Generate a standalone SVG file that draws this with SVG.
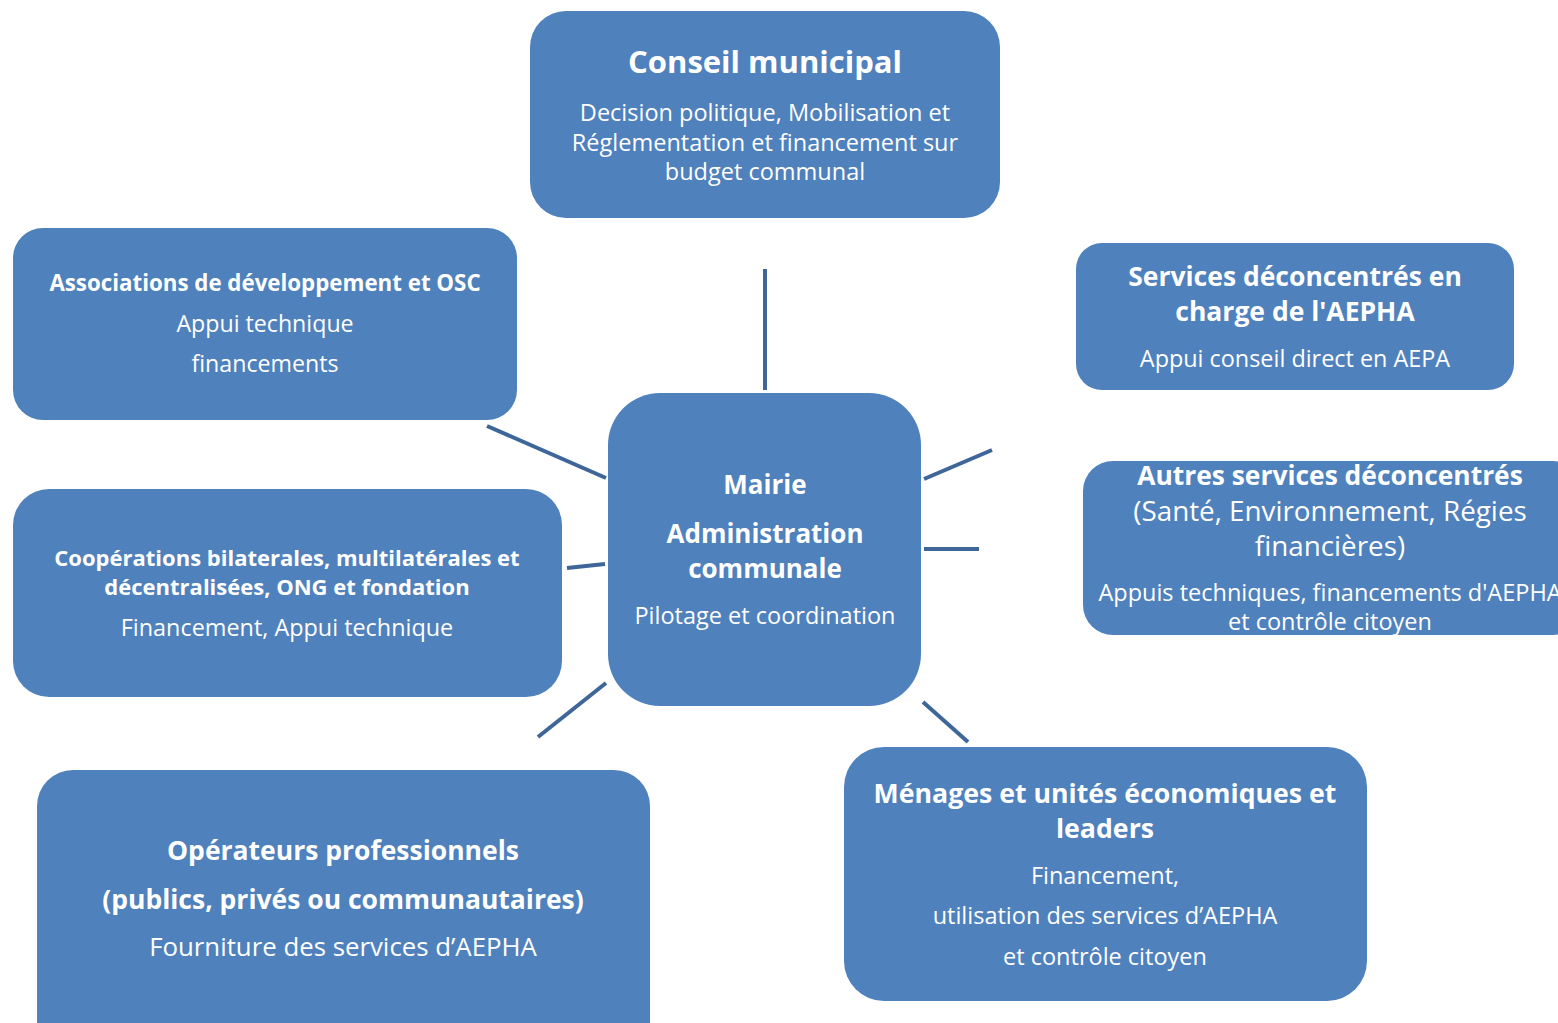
<svg xmlns="http://www.w3.org/2000/svg" width="1558" height="1023" viewBox="0 0 1558 1023">
<style>
.box{fill:#4F81BD;}
.t{fill:#FFFFFF;font-family:"Open Sans",Lato,sans-serif;text-anchor:middle;font-variant-ligatures:none;}
.b{font-weight:bold;}
.c{stroke:#3E6699;stroke-width:4;fill:none;}
</style>
<rect width="1558" height="1023" fill="#FFFFFF"/>
<g id="connectors">
<line class="c" x1="765" y1="269" x2="765" y2="390"/>
<line class="c" x1="487" y1="426" x2="606" y2="478"/>
<line class="c" x1="567" y1="568" x2="605" y2="564"/>
<line class="c" x1="538" y1="737" x2="606" y2="683"/>
<line class="c" x1="924" y1="479" x2="992" y2="450"/>
<line class="c" x1="924" y1="549" x2="979" y2="549"/>
<line class="c" x1="923" y1="702" x2="968" y2="742"/>
</g>
<g id="conseil">
<rect class="box" x="530" y="11" width="470" height="207" rx="36"/>
<text class="t b" x="765" y="73" font-size="31">Conseil municipal</text>
<text class="t" x="765" y="121" font-size="23.5">Decision politique, Mobilisation et</text>
<text class="t" x="765" y="151" font-size="23.5">Réglementation et financement sur</text>
<text class="t" x="765" y="180" font-size="23.5">budget communal</text>
</g>
<g id="associations">
<rect class="box" x="13" y="228" width="504" height="192" rx="30"/>
<text class="t b" x="265" y="291" font-size="22.3">Associations de développement et OSC</text>
<text class="t" x="265" y="332" font-size="23.2">Appui technique</text>
<text class="t" x="265" y="372" font-size="23.2">financements</text>
</g>
<g id="services">
<rect class="box" x="1076" y="243" width="438" height="147" rx="26"/>
<text class="t b" x="1295" y="286" font-size="26.5">Services déconcentrés en</text>
<text class="t b" x="1295" y="321" font-size="26.5">charge de l'AEPHA</text>
<text class="t" x="1295" y="367" font-size="23.4">Appui conseil direct en AEPA</text>
</g>
<g id="autres">
<rect class="box" x="1083" y="461" width="500" height="174" rx="30"/>
<text class="t b" x="1330" y="485" font-size="26.4">Autres services déconcentrés</text>
<text class="t" x="1330" y="521" font-size="27.8">(Santé, Environnement, Régies</text>
<text class="t" x="1330" y="556" font-size="27.8">financières)</text>
<text class="t" x="1330" y="601" font-size="23.5">Appuis techniques, financements d'AEPHA</text>
<text class="t" x="1330" y="630" font-size="23.5">et contrôle citoyen</text>
</g>
<g id="cooperations">
<rect class="box" x="13" y="489" width="549" height="208" rx="36"/>
<text class="t b" x="287" y="566" font-size="22">Coopérations bilaterales, multilatérales et</text>
<text class="t b" x="287" y="595" font-size="22">décentralisées, ONG et fondation</text>
<text class="t" x="287" y="636" font-size="23.4">Financement, Appui technique</text>
</g>
<g id="mairie">
<rect class="box" x="608" y="393" width="313" height="313" rx="52"/>
<text class="t b" x="765" y="494" font-size="26">Mairie</text>
<text class="t b" x="765" y="543" font-size="26">Administration</text>
<text class="t b" x="765" y="578" font-size="26">communale</text>
<text class="t" x="765" y="624" font-size="23.5">Pilotage et coordination</text>
</g>
<g id="operateurs">
<rect class="box" x="37" y="770" width="613" height="290" rx="36"/>
<text class="t b" x="343" y="860" font-size="26.5">Opérateurs professionnels</text>
<text class="t b" x="343" y="909" font-size="26.5">(publics, privés ou communautaires)</text>
<text class="t" x="343" y="956" font-size="25.8">Fourniture des services d’AEPHA</text>
</g>
<g id="menages">
<rect class="box" x="844" y="747" width="523" height="254" rx="40"/>
<text class="t b" x="1105" y="803" font-size="26.7">Ménages et unités économiques et</text>
<text class="t b" x="1105" y="838" font-size="26.7">leaders</text>
<text class="t" x="1105" y="884" font-size="23.5">Financement,</text>
<text class="t" x="1105" y="924" font-size="23.5">utilisation des services d’AEPHA</text>
<text class="t" x="1105" y="965" font-size="23.5">et contrôle citoyen</text>
</g>
</svg>
